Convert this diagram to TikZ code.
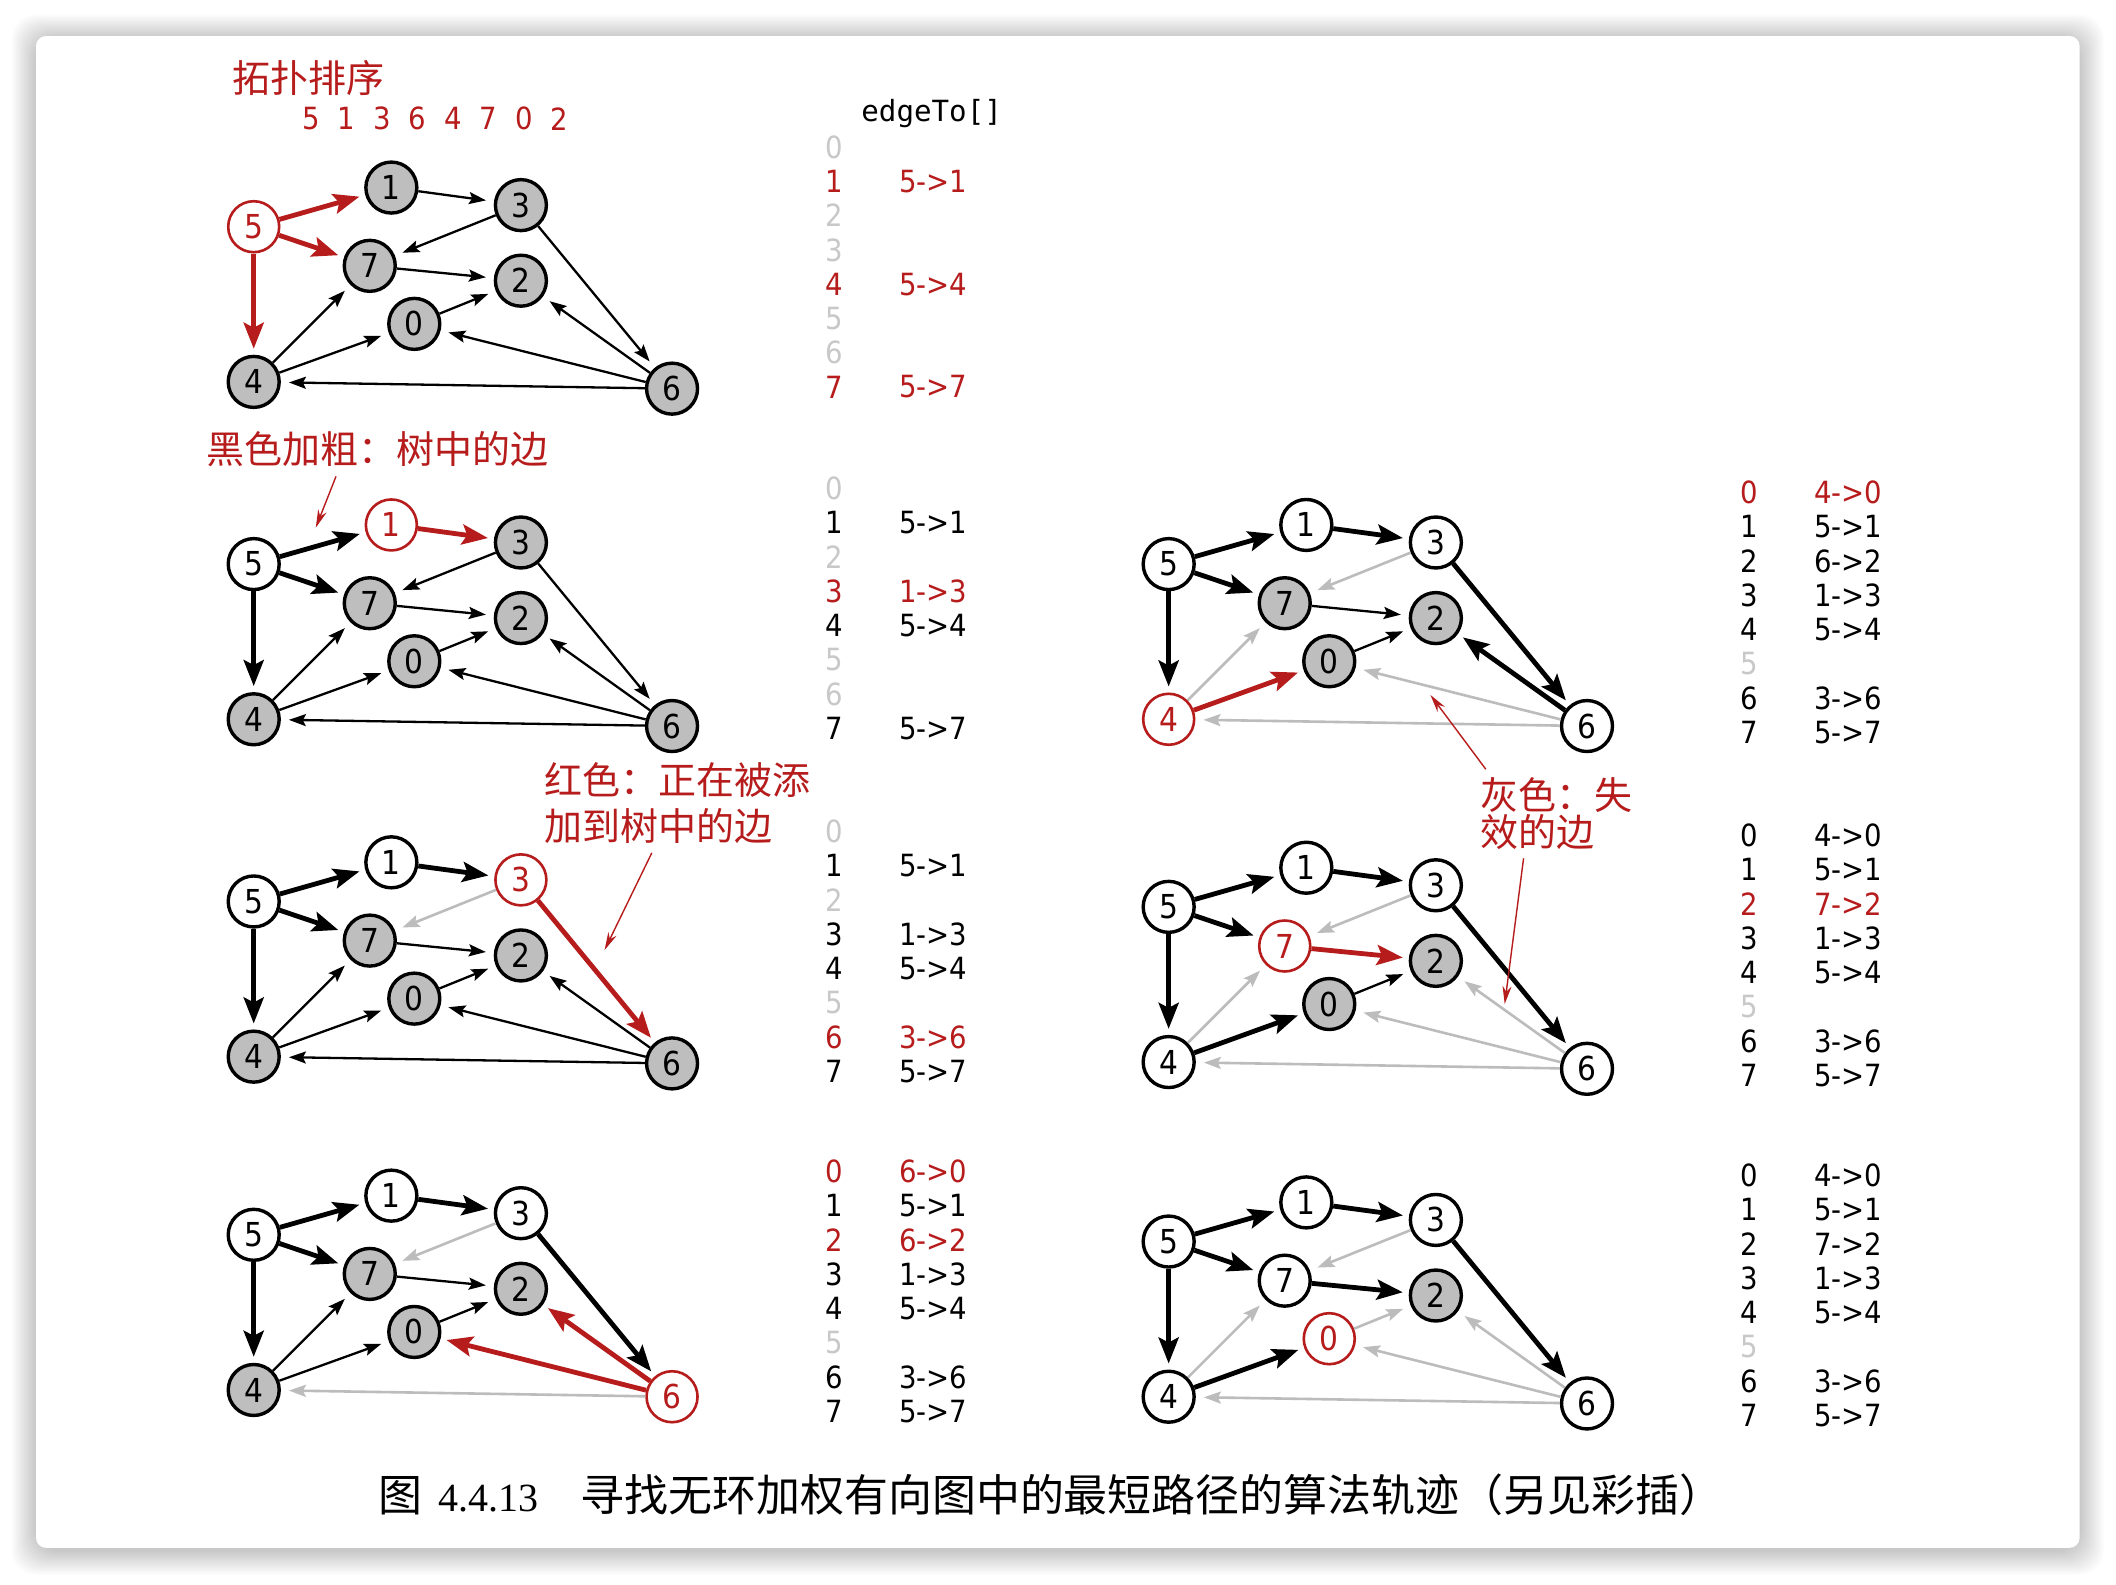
\documentclass[tikz,border=0pt]{standalone}
\usepackage{fontspec}
\setmainfont{DejaVu Sans Condensed}
\newfontfamily\digitfont{DejaVu Sans Condensed}
\newfontfamily\monofont{DejaVu Sans Mono}
\newfontfamily\cjk{Noto Sans CJK SC}
\newfontfamily\capserif{Liberation Serif}
\usetikzlibrary{arrows.meta, positioning, calc}
\definecolor{cRed}{RGB}{183,28,28}
\definecolor{cNode}{RGB}{190,190,190}
\definecolor{cDead}{RGB}{188,188,188}
\definecolor{cIdle}{RGB}{200,200,200}
\tikzset{
    vtx/.style     ={circle, draw=black, line width=1.7pt, minimum size=25.5pt, inner sep=0pt, font=\digitfont\fontsize{16.5}{16.5}\selectfont},
    vgray/.style   ={vtx, fill=cNode},
    vwhite/.style  ={vtx, fill=white},
    vred/.style    ={vtx, draw=cRed, text=cRed, fill=white, line width=1.3pt},
    thinedge/.style={-{Stealth[length=8.5pt, width=6pt, inset=1.5pt]}, line width=1.15pt, shorten >=4pt},
    deadedge/.style={thinedge, draw=cDead, line width=1.3pt},
    treeedge/.style={-{Stealth[length=13pt, width=10pt, inset=2.5pt]}, line width=2.4pt, shorten >=3pt},
    newedge/.style ={treeedge, draw=cRed},
    idx/.style     ={font=\digitfont\fontsize{15.3}{15.3}\selectfont, inner sep=0pt},
    entry/.style   ={idx, anchor=west},
    note/.style    ={font=\cjk\fontsize{19}{19}\selectfont, text=cRed, inner sep=0pt, anchor=west, align=left},
    annot/.style   ={-{Stealth[length=9pt, width=4.5pt]}, draw=cRed, line width=0.7pt},
}
% nodes of one copy of the DAG: prefix, then styles of vertices 0..7
\newcommand{\dagnodes}[9]{%
    \node[#2] (#1-0) at (119,72)  {0};
    \node[#3] (#1-1) at (102,-29) {1};
    \node[#4] (#1-2) at (198,40)  {2};
    \node[#5] (#1-3) at (198,-16) {3};
    \node[#6] (#1-4) at (0,115)   {4};
    \node[#7] (#1-5) at (0,0)     {5};
    \node[#8] (#1-6) at (310,120) {6};
    \node[#9] (#1-7) at (86,29)   {7};
}
% edgeTo[] column: prefix, x, y of row 0, rows
\newcommand{\edgetable}[4]{%
    \foreach \i/\e/\c in {#4}{
        \node[idx, text=\c] (#1-i\i) at (#2, {#3+25.4*\i}) {\i};
        \node[entry, text=\c] (#1-e\i) at ({#2+48}, {#3+25.4*\i}) {\e};
    }
}

\begin{document}
\begin{tikzpicture}[x=0.675pt, y=-0.675pt]
    \useasboundingbox (0,0) rectangle (1568,1174);
    % page with shadowed card
    \fill[white] (0,0) rectangle (1568,1174);
    \foreach \r in {1,...,18}
        \fill[black, opacity=0.012, rounded corners=12pt] ({26.7-\r},{28.7-\r}) rectangle ({1541+\r},{1149+\r});
    \fill[white, rounded corners=5pt] (26.7,26.7) rectangle (1541,1147);

    % relax 5
    \begin{scope}[shift={(188,168)}]
        \dagnodes{g1}{vgray}{vgray}{vgray}{vgray}{vgray}{vred}{vgray}{vgray}
        \foreach \a/\b/\s in {5/1/newedge, 5/7/newedge, 5/4/newedge, 1/3/thinedge, 3/7/thinedge, 3/6/thinedge, 7/2/thinedge,
                              0/2/thinedge, 4/7/thinedge, 4/0/thinedge, 6/2/thinedge, 6/0/thinedge, 6/4/thinedge}
            \draw[\s] (g1-\a) -- (g1-\b);
    \end{scope}
    % relax 1
    \begin{scope}[shift={(188,418)}]
        \dagnodes{g2}{vgray}{vred}{vgray}{vgray}{vgray}{vwhite}{vgray}{vgray}
        \foreach \a/\b/\s in {5/1/treeedge, 5/7/treeedge, 5/4/treeedge, 1/3/newedge, 3/7/thinedge, 3/6/thinedge, 7/2/thinedge,
                              0/2/thinedge, 4/7/thinedge, 4/0/thinedge, 6/2/thinedge, 6/0/thinedge, 6/4/thinedge}
            \draw[\s] (g2-\a) -- (g2-\b);
    \end{scope}
    % relax 3
    \begin{scope}[shift={(188,668)}]
        \dagnodes{g3}{vgray}{vwhite}{vgray}{vred}{vgray}{vwhite}{vgray}{vgray}
        \foreach \a/\b/\s in {5/1/treeedge, 5/7/treeedge, 5/4/treeedge, 1/3/treeedge, 3/7/deadedge, 3/6/newedge, 7/2/thinedge,
                              0/2/thinedge, 4/7/thinedge, 4/0/thinedge, 6/2/thinedge, 6/0/thinedge, 6/4/thinedge}
            \draw[\s] (g3-\a) -- (g3-\b);
    \end{scope}
    % relax 6
    \begin{scope}[shift={(188,915)}]
        \dagnodes{g4}{vgray}{vwhite}{vgray}{vwhite}{vgray}{vwhite}{vred}{vgray}
        \foreach \a/\b/\s in {5/1/treeedge, 5/7/treeedge, 5/4/treeedge, 1/3/treeedge, 3/7/deadedge, 3/6/treeedge, 7/2/thinedge,
                              0/2/thinedge, 4/7/thinedge, 4/0/thinedge, 6/2/newedge, 6/0/newedge, 6/4/deadedge}
            \draw[\s] (g4-\a) -- (g4-\b);
    \end{scope}
    % relax 4
    \begin{scope}[shift={(866,418)}]
        \dagnodes{g5}{vgray}{vwhite}{vgray}{vwhite}{vred}{vwhite}{vwhite}{vgray}
        \foreach \a/\b/\s in {5/1/treeedge, 5/7/treeedge, 5/4/treeedge, 1/3/treeedge, 3/7/deadedge, 3/6/treeedge, 7/2/thinedge,
                              0/2/thinedge, 4/7/deadedge, 4/0/newedge, 6/2/treeedge, 6/0/deadedge, 6/4/deadedge}
            \draw[\s] (g5-\a) -- (g5-\b);
    \end{scope}
    % relax 7
    \begin{scope}[shift={(866,672)}]
        \dagnodes{g6}{vgray}{vwhite}{vgray}{vwhite}{vwhite}{vwhite}{vwhite}{vred}
        \foreach \a/\b/\s in {5/1/treeedge, 5/7/treeedge, 5/4/treeedge, 1/3/treeedge, 3/7/deadedge, 3/6/treeedge, 7/2/newedge,
                              0/2/thinedge, 4/7/deadedge, 4/0/treeedge, 6/2/deadedge, 6/0/deadedge, 6/4/deadedge}
            \draw[\s] (g6-\a) -- (g6-\b);
    \end{scope}
    % relax 0
    \begin{scope}[shift={(866,920)}]
        \dagnodes{g7}{vred}{vwhite}{vgray}{vwhite}{vwhite}{vwhite}{vwhite}{vwhite}
        \foreach \a/\b/\s in {5/1/treeedge, 5/7/treeedge, 5/4/treeedge, 1/3/treeedge, 3/7/deadedge, 3/6/treeedge, 7/2/treeedge,
                              0/2/deadedge, 4/7/deadedge, 4/0/treeedge, 6/2/deadedge, 6/0/deadedge, 6/4/deadedge}
            \draw[\s] (g7-\a) -- (g7-\b);
    \end{scope}

    % edgeTo[] tables
    \node[anchor=west, inner sep=0pt, font=\monofont\fontsize{14.6}{14.6}\selectfont] (hdr) at (638,84) {edgeTo[]};
    \edgetable{t1}{618}{109}{0//cIdle, 1/5->1/cRed, 2//cIdle, 3//cIdle, 4/5->4/cRed, 5//cIdle, 6//cIdle, 7/5->7/cRed}
    \edgetable{t2}{618}{362}{0//cIdle, 1/5->1/black, 2//cIdle, 3/1->3/cRed, 4/5->4/black, 5//cIdle, 6//cIdle, 7/5->7/black}
    \edgetable{t3}{618}{616}{0//cIdle, 1/5->1/black, 2//cIdle, 3/1->3/black, 4/5->4/black, 5//cIdle, 6/3->6/cRed, 7/5->7/black}
    \edgetable{t4}{618}{868}{0/6->0/cRed, 1/5->1/black, 2/6->2/cRed, 3/1->3/black, 4/5->4/black, 5//cIdle, 6/3->6/black, 7/5->7/black}
    \edgetable{t5}{1296}{365}{0/4->0/cRed, 1/5->1/black, 2/6->2/black, 3/1->3/black, 4/5->4/black, 5//cIdle, 6/3->6/black, 7/5->7/black}
    \edgetable{t6}{1296}{619}{0/4->0/black, 1/5->1/black, 2/7->2/cRed, 3/1->3/black, 4/5->4/black, 5//cIdle, 6/3->6/black, 7/5->7/black}
    \edgetable{t7}{1296}{871}{0/4->0/black, 1/5->1/black, 2/7->2/black, 3/1->3/black, 4/5->4/black, 5//cIdle, 6/3->6/black, 7/5->7/black}

    % notes
    \node[note] (lblOrder) at (172,58) {拓扑排序};
    \foreach \d [count=\k] in {5,1,3,6,4,7,0,2}
        \node[idx, text=cRed] (ord\k) at ({230.5+26.3*(\k-1)},88) {\d};
    \node[note] (lblTree) at (153,333) {黑色加粗：树中的边};
    \node[note, font=\cjk\fontsize{19}{23}\selectfont] (lblNew) at (403,595) {红色：正在被添\\加到树中的边};
    \node[note, font=\cjk\fontsize{19}{17.5}\selectfont] (lblDead) at (1097,603) {灰色：失\\效的边};
    \coordinate (treeTail) at (249,353);
    \coordinate (treeTip) at (234,391);
    \coordinate (newTail) at (483,632);
    \coordinate (newTip) at (448,704);
    \coordinate (deadTailA) at (1101,570);
    \coordinate (deadTipA) at (1060,515);
    \coordinate (deadTailB) at (1129,636);
    \coordinate (deadTipB) at (1115,744);
    \draw[annot] (treeTail) -- (treeTip);
    \draw[annot] (newTail) -- (newTip);
    \draw[annot] (deadTailA) -- (deadTipA);
    \draw[annot] (deadTailB) -- (deadTipB);

    % caption
    \node[anchor=west, inner sep=0pt, font=\cjk\fontsize{22}{22}\selectfont] (caption) at (280,1108)
        {图\hspace{8pt}{\capserif\fontsize{20}{20}\selectfont 4.4.13}\hspace{21pt}寻找无环加权有向图中的最短路径的算法轨迹（另见彩插）};
\end{tikzpicture}
\end{document}
